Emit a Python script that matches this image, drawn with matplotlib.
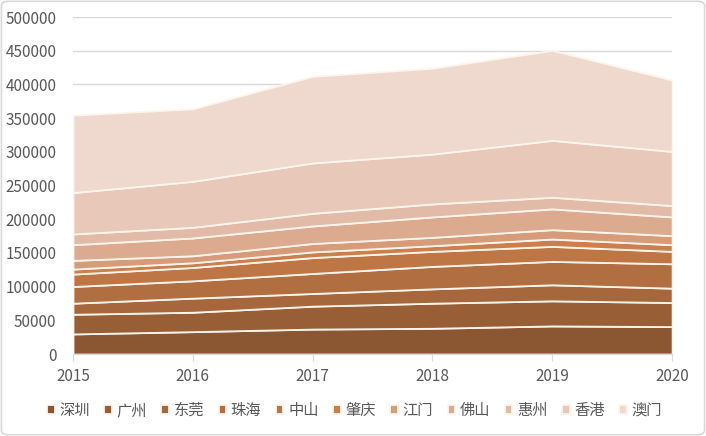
import matplotlib
matplotlib.use("Agg")
import matplotlib.pyplot as plt
from matplotlib.patches import FancyBboxPatch
import numpy as np

plt.rcParams['font.family'] = ['Noto Sans CJK SC', 'DejaVu Sans']

years = [2015, 2016, 2017, 2018, 2019, 2020]
cities = ['深圳', '广州', '东莞', '珠海', '中山', '肇庆', '江门', '佛山', '惠州', '香港', '澳门']

shenzhen = [29800, 33200, 37000, 38200, 41700, 40700]
guangzhou = [29200, 28800, 34000, 37200, 37200, 35700]
dongguan = [16400, 20900, 18800, 21300, 23800, 21300]
zhuhai = [24800, 25700, 29700, 33300, 34700, 36200]
zhongshan = [18400, 19800, 23600, 22300, 22300, 18400]
zhaoqing = [7400, 7000, 8400, 8400, 10900, 9900]
jiangmen = [12900, 10400, 12500, 12400, 13900, 13400]
foshan = [23300, 26400, 26000, 30300, 30800, 27800]
huizhou = [15900, 15800, 18800, 19300, 17300, 16800]
hongkong = [61400, 68200, 74700, 73900, 84400, 80400]
macau = [114800, 107600, 128500, 127400, 133500, 105900]

series = [shenzhen, guangzhou, dongguan, zhuhai, zhongshan, zhaoqing,
          jiangmen, foshan, huizhou, hongkong, macau]

colors = ['#8B5733', '#985F37', '#A6673C', '#B16E40', '#BE7645', '#CC7F4B',
          '#D69C7A', '#DCAA8F', '#E2BBA8', '#E8C8B9', '#EFD8CD']

fig = plt.figure(figsize=(7.06, 4.36), dpi=100)
ax = fig.add_axes([0.1034, 0.188, 0.8486, 0.773])

ax.stackplot(years, *series, labels=cities, colors=colors,
             edgecolor='#FFF4EC', linewidth=1.3, zorder=3)

ax.set_xlim(2015, 2020)
ax.set_ylim(0, 500000)
ax.set_yticks(np.arange(0, 500001, 50000))
ax.set_xticks(years)
ax.yaxis.grid(True, color='#D9D9D9', linewidth=1, zorder=0)
ax.set_axisbelow(True)
for s in ['top', 'right', 'left']:
    ax.spines[s].set_visible(False)
ax.spines['bottom'].set_color('#D9D9D9')
ax.spines['bottom'].set_zorder(5)
ax.tick_params(axis='y', length=0, labelsize=11, labelcolor='#595959', pad=12)
ax.tick_params(axis='x', length=5, color='#D9D9D9', labelsize=11,
               labelcolor='#595959', pad=5)

fig.legend(loc='center', bbox_to_anchor=(0.502, 0.058), ncol=11,
           frameon=False, fontsize=11, handlelength=0.5,
           handleheight=0.5, handletextpad=0.3, columnspacing=0.95,
           labelcolor='#595959')

border = FancyBboxPatch((0.002, 0.003), 0.996, 0.994,
                        boxstyle='round,pad=0,rounding_size=0.01',
                        transform=fig.transFigure, fill=False,
                        edgecolor='#D9D9D9', linewidth=1.2)
fig.patches.append(border)

fig.savefig('out.png', dpi=100)
